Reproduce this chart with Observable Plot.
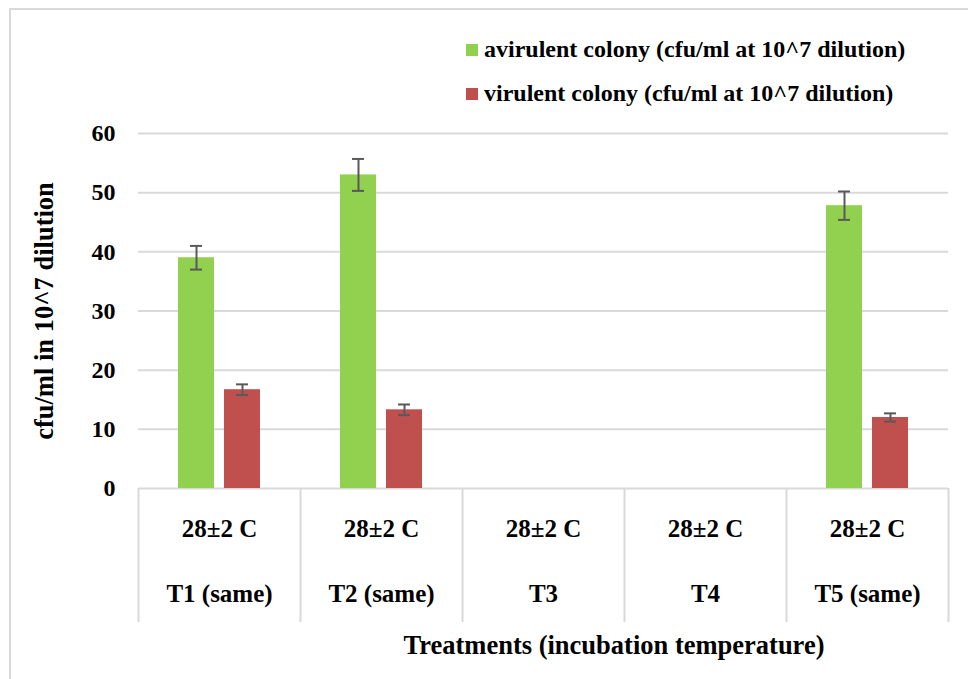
<!DOCTYPE html>
<html><head><meta charset="utf-8">
<script src="https://cdn.jsdelivr.net/npm/d3@7"></script>
<script src="https://cdn.jsdelivr.net/npm/@observablehq/plot@0.6"></script>
<style>
body{margin:0;background:#fff;}
#wrap{position:relative;width:968px;height:679px;overflow:hidden;font-family:"Liberation Serif","Times New Roman",serif;font-weight:bold;color:#000;}
#frame{position:absolute;left:9px;top:8px;width:1200px;height:1000px;border-left:2px solid #d9d9d9;border-top:2px solid #d9d9d9;pointer-events:none;}
#legend{position:relative;height:115px;}
.item{position:absolute;left:466px;display:flex;align-items:center;font-size:24px;white-space:nowrap;}
.sw{width:12px;height:12px;margin-right:6px;}
#chart svg{display:block;}
#xtitle{position:absolute;top:628px;left:0;width:1228px;text-align:center;font-size:26.5px;line-height:34px;}
</style>
</head><body>
<div id="wrap">
  <div id="frame"></div>
  <div id="legend"></div>
  <div id="chart"></div>
  <div id="xtitle"></div>
</div>
<script>
const categories = ["T1 (same)", "T2 (same)", "T3", "T4", "T5 (same)"];
const temps = ["28±2 C", "28±2 C", "28±2 C", "28±2 C", "28±2 C"];
const seriesNames = ["avirulent colony (cfu/ml at 10^7 dilution)", "virulent colony (cfu/ml at 10^7 dilution)"];
const seriesColors = ["#92D050", "#C0504D"];
const avirulent = [39, 53, 0, 0, 47.8];
const avirulentErr = [2, 2.7, 0, 0, 2.4];
const virulent = [16.7, 13.3, 0, 0, 12.0];
const virulentErr = [0.9, 0.9, 0, 0, 0.7];
const yTicks = [0, 10, 20, 30, 40, 50, 60];
const yTitle = "cfu/ml in 10^7 dilution";
const xTitle = "Treatments (incubation temperature)";

const W = 968, ML = 138, MR = 20;
const step = (W - ML - MR) / categories.length;
const half = step / 2;
const barW = 36, gap = 10, capW = 12;
// offset of each series' bar centre from the category centre
const offs = seriesNames.map((s, k) => (k - (seriesNames.length - 1) / 2) * (barW + gap));

const data = categories.flatMap((c, i) => [
  {cat: c, k: 0, series: seriesNames[0], value: avirulent[i], err: avirulentErr[i]},
  {cat: c, k: 1, series: seriesNames[1], value: virulent[i], err: virulentErr[i]}
]);

// legend
const legend = document.getElementById("legend");
seriesNames.forEach((s, i) => {
  const it = document.createElement("div");
  it.className = "item";
  it.style.top = (36 + i * 44) + "px";
  it.innerHTML = `<span class="sw" style="background:${seriesColors[i]}"></span><span>${s}</span>`;
  legend.appendChild(it);
});
document.getElementById("xtitle").textContent = xTitle;

const seriesMarks = seriesNames.flatMap((s, k) => {
  const bars = data.filter(d => d.k === k && d.value > 0);
  const errs = data.filter(d => d.k === k && d.err > 0);
  const barLeft = half + offs[k] - barW / 2;
  const capLeft = half + offs[k] - capW / 2;
  const errStyle = {stroke: "#595959", strokeWidth: 2};
  return [
    Plot.rectY(bars, {x: "cat", y: "value", fill: seriesColors[k], insetLeft: barLeft, insetRight: step - barLeft - barW}),
    Plot.ruleX(errs, {x: "cat", y1: d => d.value - d.err, y2: d => d.value + d.err, dx: offs[k], ...errStyle}),
    Plot.tickY(errs, {x: "cat", y: d => d.value - d.err, insetLeft: capLeft, insetRight: step - capLeft - capW, ...errStyle}),
    Plot.tickY(errs, {x: "cat", y: d => d.value + d.err, insetLeft: capLeft, insetRight: step - capLeft - capW, ...errStyle})
  ];
});

const chart = Plot.plot({
  width: W, height: 511,
  marginTop: 18, marginBottom: 138, marginLeft: ML, marginRight: MR,
  style: {fontFamily: "Liberation Serif, Times New Roman, serif", fontWeight: "bold", fontSize: "24px", color: "#000", background: "transparent", overflow: "visible"},
  x: {domain: categories, padding: 0, axis: null, label: null},
  y: {domain: [0, 60], axis: null, label: null},
  marks: [
    Plot.gridY(yTicks.filter(t => t > 0), {stroke: "#d9d9d9", strokeOpacity: 1, strokeWidth: 2}),
    Plot.ruleY([0], {stroke: "#d9d9d9", strokeWidth: 2}),
    Plot.axisY(yTicks, {tickSize: 0, tickPadding: 23, label: null, fontSize: 24}),
    Plot.axisY([], {label: yTitle, labelAnchor: "center", labelOffset: 104, labelArrow: "none", fontSize: 26.5}),
    ...seriesMarks,
    Plot.axisX(categories, {anchor: "bottom", tickSize: 0, tickPadding: 31, tickFormat: c => temps[categories.indexOf(c)], label: null, fontSize: 25}),
    Plot.axisX(categories, {anchor: "bottom", tickSize: 0, tickPadding: 96, label: null, fontSize: 25}),
    Plot.axisX(categories, {anchor: "bottom", tickSize: 134, tickFormat: () => "", dx: -half, stroke: "#d9d9d9", strokeWidth: 2, label: null}),
    Plot.axisX(categories.slice(-1), {anchor: "bottom", tickSize: 134, tickFormat: () => "", dx: half, stroke: "#d9d9d9", strokeWidth: 2, label: null})
  ]
});
document.getElementById("chart").appendChild(chart);
</script>
</body></html>
